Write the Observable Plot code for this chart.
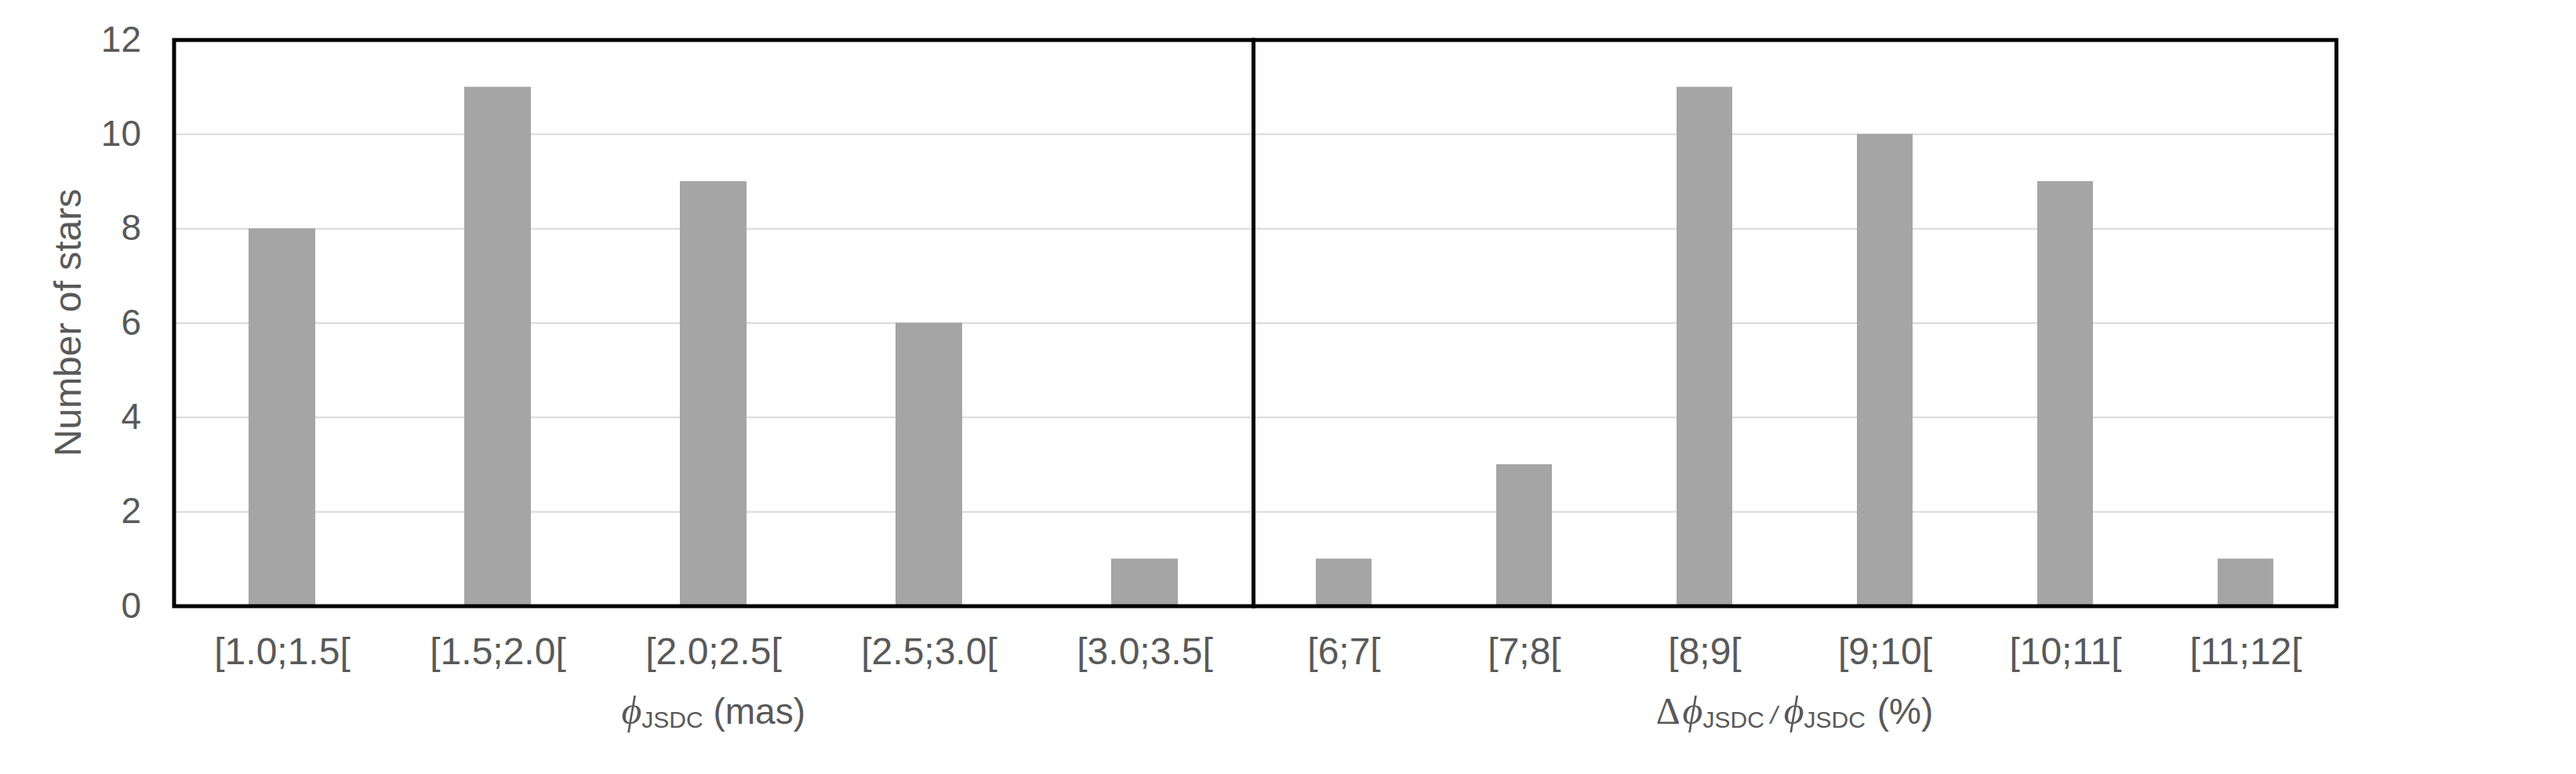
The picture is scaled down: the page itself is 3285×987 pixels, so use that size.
<!DOCTYPE html>
<html><head><meta charset="utf-8">
<script src="https://cdn.jsdelivr.net/npm/d3@7"></script>
<script src="https://cdn.jsdelivr.net/npm/@observablehq/plot@0.6"></script>
<style>
body{margin:0;background:#fff;}
#chart{position:relative;width:3285px;height:987px;}
#chart svg{position:absolute;left:0;top:0;max-width:none;background:transparent;}
</style></head><body><div id="chart"></div>
<script>
// ---- data ----
const diamCategories = ["[1.0;1.5[", "[1.5;2.0[", "[2.0;2.5[", "[2.5;3.0[", "[3.0;3.5["];
const diamCounts = [8, 11, 9, 6, 1];
const errCategories = ["[6;7[", "[7;8[", "[8;9[", "[9;10[", "[10;11[", "[11;12["];
const errCounts = [1, 3, 11, 10, 9, 1];
const yTicks = [0, 2, 4, 6, 8, 10, 12];
const yLabel = "Number of stars";

// ---- layout ----
const W = 3285, H = 987;
const mTop = 50.5, mBottom = H - 772.5, mLeft = 221.5, split = 1598, rightEdge = 2979;
const textColor = "#595959";
const sans = "'Liberation Sans', Arial, sans-serif";
const serif = "'Liberation Serif', 'DejaVu Serif', serif";

const common = {
  width: W, height: H, marginTop: mTop, marginBottom: mBottom,
  style: {background: "transparent", color: textColor, fontFamily: sans, overflow: "visible"}
};
const gridVals = yTicks.filter(t => t > 0 && t < 12);

const leftPlot = Plot.plot({
  ...common,
  marginLeft: mLeft, marginRight: W - split,
  x: {domain: diamCategories, paddingInner: 0.69, paddingOuter: 0.345, label: null},
  y: {domain: [0, 12], label: null},
  marks: [
    Plot.ruleY(gridVals, {stroke: "#d9d9d9", strokeWidth: 2}),
    Plot.barY(diamCategories.map((c, i) => ({c, n: diamCounts[i]})), {x: "c", y: "n", fill: "#a5a5a5"}),
    Plot.axisX({tickSize: 0, tickPadding: 40, fontSize: 48, label: null}),
    Plot.axisY({ticks: yTicks, tickSize: 0, tickPadding: 42, fontSize: 46, label: null}),
    Plot.frame({stroke: "#000", strokeWidth: 5})
  ]
});

const rightPlot = Plot.plot({
  ...common,
  marginLeft: split, marginRight: W - rightEdge,
  x: {domain: errCategories, paddingInner: 0.69, paddingOuter: 0.345, label: null},
  y: {domain: [0, 12], axis: null},
  marks: [
    Plot.ruleY(gridVals, {stroke: "#d9d9d9", strokeWidth: 2}),
    Plot.barY(errCategories.map((c, i) => ({c, n: errCounts[i]})), {x: "c", y: "n", fill: "#a5a5a5"}),
    Plot.axisX({tickSize: 0, tickPadding: 40, fontSize: 48, label: null}),
    Plot.frame({stroke: "#000", strokeWidth: 5})
  ]
});

const chart = document.getElementById("chart");
chart.appendChild(leftPlot);
chart.appendChild(rightPlot);

// y axis title
d3.select(leftPlot).append("text")
  .attr("transform", `translate(103,${(mTop + H - mBottom) / 2}) rotate(-90)`)
  .attr("text-anchor", "middle")
  .attr("fill", textColor).attr("font-family", sans).attr("font-size", 48)
  .text(yLabel);

// x axis titles with subscripts
function addTitle(svg, x, parts) {
  const t = d3.select(svg).append("text")
    .attr("x", x).attr("y", 923).attr("text-anchor", "middle")
    .attr("fill", textColor).attr("font-family", sans).attr("font-size", 46);
  let shift = 0;
  parts.forEach(p => {
    const ts = t.append("tspan").text(p.text);
    const want = p.sub ? 5 : 0;
    ts.attr("dy", want - shift);
    shift = want;
    if (p.dx) ts.attr("dx", p.dx);
    if (p.sub) ts.attr("font-size", 30);
    if (p.serif) ts.attr("font-family", serif);
    if (p.italic) ts.attr("font-style", "italic");
    if (p.size) ts.attr("font-size", p.size);
  });
}
const phi = "\u03D5";
addTitle(rightPlot, (mLeft + split) / 2, [
  {text: phi, serif: true, italic: true, size: 50},
  {text: "JSDC", sub: true},
  {text: " (mas)"}
]);
addTitle(rightPlot, (split + rightEdge) / 2, [
  {text: "\u0394", serif: true, size: 48},
  {text: phi, serif: true, italic: true, size: 50, dx: 3},
  {text: "JSDC", sub: true},
  {text: "/", italic: true, size: 32, dx: 8},
  {text: phi, serif: true, italic: true, size: 50, dx: 8},
  {text: "JSDC", sub: true},
  {text: " (%)", dx: 2}
]);
</script></body></html>
